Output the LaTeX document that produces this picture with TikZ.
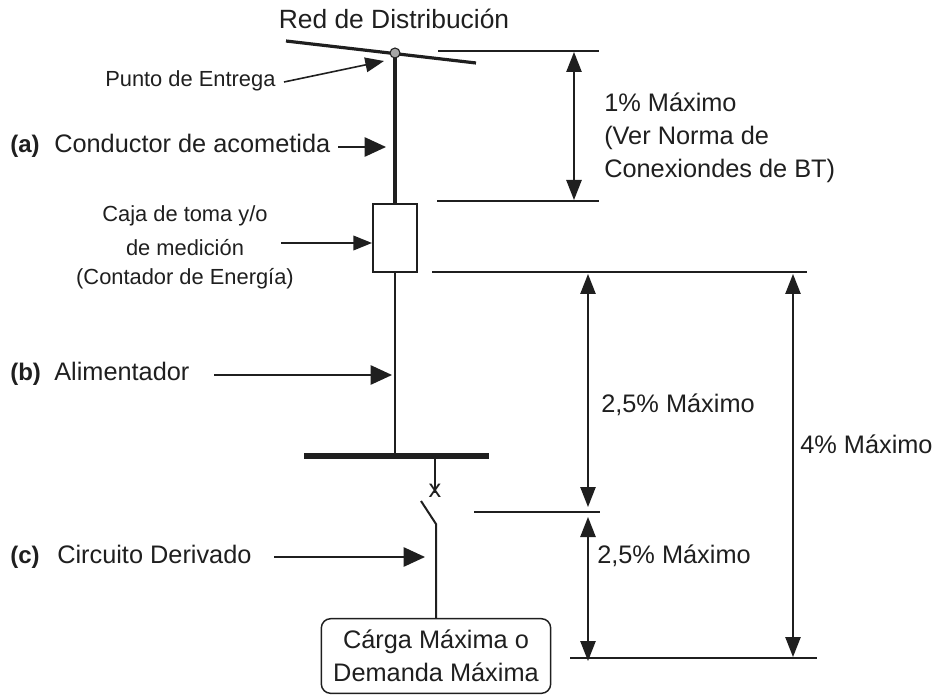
\documentclass[tikz,border=0pt]{standalone}
\usepackage{fontspec}
\setmainfont{Liberation Sans}
\usetikzlibrary{arrows.meta}
\definecolor{ink}{gray}{0.12}
\tikzset{
  x=0.75pt,y=-0.75pt,
  big/.style={font=\fontsize{19}{24.5}\selectfont,text=ink,inner sep=0pt,align=center},
  small/.style={font=\fontsize{16.4}{24}\selectfont,text=ink,inner sep=0pt,align=center},
  tag/.style={font=\fontsize{18}{20}\selectfont\bfseries,text=ink,inner sep=0pt},
  wire/.style={draw=ink,line width=1.5pt},
  thin line/.style={draw=ink,line width=1.1pt},
  pointer/.style={draw=ink,line width=1.2pt,-{Triangle[length=16pt,width=14.5pt]}},
  minor pointer/.style={draw=ink,line width=1.2pt,-{Triangle[length=14pt,width=11pt]}},
  dim/.style={draw=ink,line width=1.1pt,{Triangle[length=15pt,width=11.5pt]}-{Triangle[length=15pt,width=11.5pt]}}
}
\begin{document}
\begin{tikzpicture}
\useasboundingbox (0,0) rectangle (932,695);
% Network
\coordinate (netL) at (286,41);
\coordinate (netR) at (476,63);
\coordinate (dot) at (395,53);
\draw[draw=ink,line width=2.4pt] (netL) -- (netR);
\node[big,anchor=base,font=\fontsize{19.8}{24}\selectfont] (red) at (394,29) {Red de Distribución};
% Meter box
\node[draw=ink,line width=1.3pt,minimum width=33pt,minimum height=51pt,inner sep=0pt] (box) at (395,238) {};
\draw[draw=ink,line width=2.6pt] (dot) -- (box.north);
\node[circle,draw=ink,line width=0.8pt,fill=gray!70,minimum size=7.5pt,inner sep=0pt] (dotn) at (dot) {};
% Bus
\coordinate (busL) at (304,456);
\coordinate (busR) at (489,456);
\coordinate (busA) at (395,456);
\coordinate (busB) at (435,456);
\draw[draw=ink,line width=4pt] (busL) -- (busR);
\draw[wire] (box.south) -- (busA);
% Load
\node[draw=ink,line width=1.1pt,rounded corners=7pt,minimum width=172pt,minimum height=56pt,inner sep=0pt,big] (load) at (436,656) {Cárga Máxima o\\Demanda Máxima};
% Switch
\coordinate (x) at (435,493);
\coordinate (swT) at (421,501);
\coordinate (swB) at (436,524);
\draw[wire] (busB) -- (x);
\node[font=\fontsize{19}{19}\selectfont,text=ink,inner sep=0pt] (xm) at (435,491) {x};
\draw[wire] (swT) -- (swB) -- (swB |- load.north);
% Labels left
\node[small,anchor=base west] (pe) at (105,87) {Punto de Entrega};
\coordinate (peS) at (284,82);
\coordinate (peE) at (384,61);
\draw[minor pointer] (peS) -- (peE);
\node[tag,anchor=base west] (a) at (10,153) {(a)};
\node[big,anchor=base west] (ca) at (54,153) {Conductor de acometida};
\coordinate (caS) at (338,147);
\coordinate (caE) at (386,147);
\draw[pointer] (caS) -- (caE);
\node[small,anchor=center] (caja1) at (185,216) {Caja de toma y/o};
\node[small,anchor=center] (caja2) at (185,248) {de medición};
\node[small,anchor=center] (caja3) at (185,279) {(Contador de Energía)};
\coordinate (cjS) at (281,243);
\coordinate (cjE) at (372,243);
\draw[minor pointer] (cjS) -- (cjE);
\node[tag,anchor=base west] (b) at (10,380) {(b)};
\node[big,anchor=base west] (al) at (54,380) {Alimentador};
\coordinate (alS) at (214,375);
\coordinate (alE) at (392,375);
\draw[pointer] (alS) -- (alE);
\node[tag,anchor=base west] (c) at (10,563) {(c)};
\node[big,anchor=base west] (cd) at (57,563) {Circuito Derivado};
\coordinate (cdS) at (274,557);
\coordinate (cdE) at (425,557);
\draw[pointer] (cdS) -- (cdE);
% Reference lines
\coordinate (r1a) at (438,51); \coordinate (r1b) at (599,51);
\coordinate (r2a) at (437,201); \coordinate (r2b) at (599,201);
\coordinate (r3a) at (432,272); \coordinate (r3b) at (807,272);
\coordinate (r4a) at (474,512); \coordinate (r4b) at (600,512);
\coordinate (r5a) at (570,658); \coordinate (r5b) at (817,658);
\draw[thin line] (r1a) -- (r1b);
\draw[thin line] (r2a) -- (r2b);
\draw[thin line] (r3a) -- (r3b);
\draw[thin line] (r4a) -- (r4b);
\draw[thin line] (r5a) -- (r5b);
% Dimension arrows
\coordinate (d1t) at (574,52); \coordinate (d1b) at (574,200);
\coordinate (d2t) at (588,274); \coordinate (d2b) at (588,507);
\coordinate (d3t) at (588,517); \coordinate (d3b) at (588,661);
\coordinate (d4t) at (793,274); \coordinate (d4b) at (793,657);
\draw[dim] (d1t) -- (d1b);
\draw[dim] (d2t) -- (d2b);
\draw[dim] (d3t) -- (d3b);
\draw[dim] (d4t) -- (d4b);
% Dimension labels
\node[big,anchor=north west,align=left] (t1) at (604,93) {1\% Máximo\\(Ver Norma de\\Conexiondes de BT)};
\node[big,anchor=base west] (t2) at (601,412) {2,5\% Máximo};
\node[big,anchor=base west] (t3) at (597,563) {2,5\% Máximo};
\node[big,anchor=base west] (t4) at (800,453) {4\% Máximo};
\end{tikzpicture}
\end{document}
